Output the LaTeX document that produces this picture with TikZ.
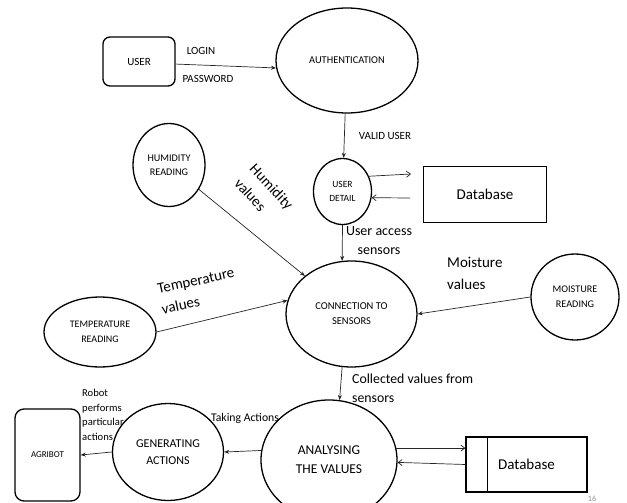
\documentclass[tikz,border=0pt]{standalone}
\usepackage{fontspec}
\setmainfont{Carlito}
\usetikzlibrary{shapes.geometric,arrows.meta}
\newcommand{\txtsize}[2]{\fontsize{#1}{#2}\selectfont}
\tikzset{
    > = {Stealth[length=5pt,width=4pt]},
    proc/.style = {draw, ellipse, line width=1.3pt, inner sep=0pt, align=center},
    ent/.style = {draw, rectangle, rounded corners=7pt, line width=1.3pt, align=center},
    store/.style = {draw, rectangle, line width=1.3pt},
    flow/.style = {->, line width=0.7pt, black!85},
    dbflow/.style = {-{Straight Barb[length=4pt,width=6pt]}, line width=0.7pt, black!85},
    lbl/.style = {inner sep=0pt, align=left}
}

\begin{document}
\begin{tikzpicture}[x=1pt, y=-1pt]
    \useasboundingbox (0,0) rectangle (627,503);
    \clip (0,0) rectangle (627,503);

    % entities and stores
    \node[ent, minimum width=72pt, minimum height=49pt, font=\txtsize{11}{13}] (user) at (139,61.5) {USER};
    \node[ent, minimum width=65pt, minimum height=92pt, rounded corners=9pt, font=\txtsize{9}{11}] (agri) at (47.5,455) {AGRIBOT};
    \node[store, minimum width=123pt, minimum height=56pt, font=\txtsize{15}{18}] (db1) at (485,194.5) {Database};
    \node[store, minimum width=121pt, minimum height=55pt, font=\txtsize{15}{18}] (db2) at (526.5,464.5) {Database};
    \draw[line width=1.1pt] ([xshift=22pt]db2.north west) -- ([xshift=22pt]db2.south west);

    % processes
    \node[proc, minimum width=142pt, minimum height=105pt, font=\txtsize{10.4}{13}] (auth) at (347,60.5) {AUTHENTICATION};
    \node[proc, minimum width=58pt, minimum height=66pt, font=\txtsize{9.5}{14}] (udetail) at (342.5,191.5) {USER\\DETAIL};
    \node[proc, minimum width=72pt, minimum height=83pt, font=\txtsize{10.2}{14}] (hum) at (169,165) {HUMIDITY\\READING};
    \node[proc, minimum width=131pt, minimum height=106pt, font=\txtsize{10.5}{15}] (conn) at (351.5,314) {CONNECTION TO\\SENSORS};
    \node[proc, minimum width=112pt, minimum height=70pt, font=\txtsize{10}{15}] (temp) at (100,332) {TEMPERATURE\\READING};
    \node[proc, minimum width=88pt, minimum height=86pt, font=\txtsize{10.2}{15}] (moist) at (575,297) {MOISTURE\\READING};
    \node[proc, minimum width=136pt, minimum height=120pt, font=\txtsize{13.5}{19}] (anal) at (329,460) {ANALYSING\\THE VALUES};
    \node[proc, minimum width=111pt, minimum height=97pt, font=\txtsize{12}{17}] (gen) at (168,452) {GENERATING\\ACTIONS};

    % free ends towards the first store
    \coordinate (d1in) at (411,174);
    \coordinate (d1out) at (410,198);

    % flows
    \draw[flow] (user.-4) -- (auth.186);
    \draw[flow] (auth) -- (udetail);
    \draw[dbflow] (udetail.30) -- (d1in);
    \draw[dbflow] (d1out) -- (udetail.-12);
    \draw[flow] (udetail.south) -- (conn.100);
    \draw[flow] (hum) -- (conn);
    \draw[flow] (temp.east) -- (conn.168);
    \draw[flow] (moist.west) -- (conn.east);
    \draw[flow] (conn.260) -- (anal.80);
    \draw[dbflow] (anal.10) -- (anal.10 -| db2.west);
    \draw[dbflow] (db2.west) -- (anal.-2);
    \draw[flow] (anal.172) -- (gen.east);
    \draw[flow] (gen.west) -- (agri.east);

    % flow labels
    \node[lbl, font=\txtsize{11}{13}] (login) at (201,51) {LOGIN};
    \node[lbl, font=\txtsize{11}{13}] (passwd) at (208,79) {PASSWORD};
    \node[lbl, font=\txtsize{11}{13}] (valid) at (385,136) {VALID USER};
    \node[lbl, rotate=-47, font=\txtsize{15}{21}] (humval) at (264,194) {Humidity\\values};
    \node[lbl, rotate=12, font=\txtsize{15}{21}] (tempval) at (198,291) {Temperature\\values};
    \node[lbl, align=center, font=\txtsize{14}{19}] (access) at (379,241) {User access\\sensors};
    \node[lbl, anchor=west, font=\txtsize{15}{22}] (moistval) at (447,273) {Moisture\\values};
    \node[lbl, anchor=west, font=\txtsize{13.8}{19}] (collect) at (352,388) {Collected values from\\sensors};
    \node[lbl, font=\txtsize{11.7}{14}] (taking) at (245,418) {Taking Actions};
    \node[lbl, anchor=west, font=\txtsize{10.6}{14.5}] (robot) at (82,415) {Robot\\performs\\particular\\actions};
    \node[font=\txtsize{8}{9}, text=black!45] (pgno) at (592,499) {16};
\end{tikzpicture}
\end{document}
